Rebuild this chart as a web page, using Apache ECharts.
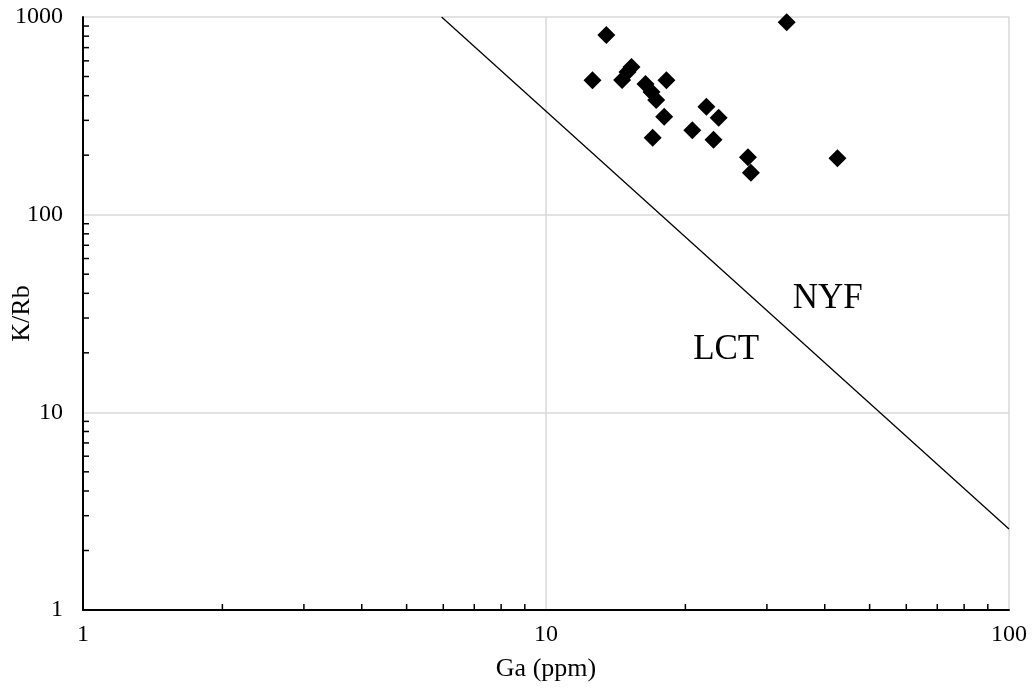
<!DOCTYPE html>
<html>
<head>
<meta charset="utf-8">
<title>K/Rb vs Ga</title>
<script src="https://cdn.jsdelivr.net/npm/echarts@6/dist/echarts.min.js"></script>
<style>
  html, body { margin: 0; padding: 0; background: #fff; }
  #chart { width: 1032px; height: 692px; }
</style>
</head>
<body>
<div id="chart"></div>
<script>
// Sample measurements: Ga (ppm) and K/Rb ratio
const gaPpm = [13.5, 33.1, 12.6, 15.3, 15.0, 14.6, 18.2, 16.4, 16.9, 17.3, 18.0, 17.0, 22.2, 23.6, 20.7, 23.0, 27.3, 27.7, 42.6];
const kRb   = [811, 940, 478, 558, 527, 480, 478, 458, 417, 380, 313, 245, 352, 309, 267, 239, 195, 163, 193];

// LCT / NYF discrimination boundary (end points)
const boundaryGa  = [5.95, 100];
const boundaryKRb = [1000, 2.57];

// Field labels and their positions in data units
const fieldNames = ['NYF', 'LCT'];
const fieldGa    = [40.6, 24.5];
const fieldKRb   = [37.5, 20.7];

// Axis ranges and minor tick values
const xRange = [1, 100];
const yRange = [1, 1000];
const xMinor = [2, 3, 4, 5, 6, 7, 8, 9, 20, 30, 40, 50, 60, 70, 80, 90];
const yMinor = [2, 3, 4, 5, 6, 7, 8, 9, 20, 30, 40, 50, 60, 70, 80, 90, 200, 300, 400, 500, 600, 700, 800, 900];

const serif = '"Liberation Serif", "DejaVu Serif", serif';

const samples = gaPpm.map((g, i) => [g, kRb[i]]);
const boundary = boundaryGa.map((g, i) => [g, boundaryKRb[i]]);
const fields = fieldNames.map((n, i) => ({ name: n, value: [fieldGa[i], fieldKRb[i]] }));

const chart = echarts.init(document.getElementById('chart'), null, { renderer: 'canvas' });

const axisCommon = {
  type: 'log',
  logBase: 10,
  nameLocation: 'middle',
  nameMoveOverlap: false,
  nameTextStyle: { fontFamily: serif, fontSize: 26, color: '#000' },
  axisLine: { show: true, onZero: false, lineStyle: { color: '#000', width: 2 } },
  axisTick: { show: false },
  axisLabel: { fontFamily: serif, fontSize: 24, color: '#000', formatter: v => String(v) },
  splitLine: { show: true, lineStyle: { color: '#d9d9d9', width: 1.5 } }
};

chart.setOption({
  animation: false,
  backgroundColor: '#fff',
  grid: { left: 83, right: 23, top: 17, bottom: 82, containLabel: false, outerBoundsMode: 'none' },
  xAxis: Object.assign({}, axisCommon, {
    min: xRange[0], max: xRange[1],
    name: 'Ga (ppm)', nameGap: 46,
    axisLabel: Object.assign({}, axisCommon.axisLabel, { margin: 13 })
  }),
  yAxis: Object.assign({}, axisCommon, {
    min: yRange[0], max: yRange[1],
    name: 'K/Rb', nameGap: 48,
    axisLabel: Object.assign({}, axisCommon.axisLabel, { margin: 20 })
  }),
  series: [
    {
      // inward minor ticks on the Ga axis
      type: 'custom',
      silent: true,
      clip: false,
      data: xMinor.map(v => [v]),
      renderItem: (params, api) => {
        const p = api.coord([api.value(0), yRange[0]]);
        return { type: 'line', shape: { x1: p[0], y1: p[1], x2: p[0], y2: p[1] - 6 },
                 style: { stroke: '#000', lineWidth: 1.5 } };
      },
      z: 5
    },
    {
      // inward minor ticks on the K/Rb axis
      type: 'custom',
      silent: true,
      clip: false,
      data: yMinor.map(v => [v]),
      renderItem: (params, api) => {
        const p = api.coord([xRange[0], api.value(0)]);
        return { type: 'line', shape: { x1: p[0], y1: p[1], x2: p[0] + 6, y2: p[1] },
                 style: { stroke: '#000', lineWidth: 1.5 } };
      },
      encode: { x: -1, y: 0 },
      z: 5
    },
    {
      type: 'line',
      data: boundary,
      showSymbol: false,
      symbol: 'none',
      lineStyle: { color: '#000', width: 1.3 },
      silent: true,
      z: 3
    },
    {
      type: 'scatter',
      data: samples,
      symbol: 'diamond',
      symbolSize: 18,
      itemStyle: { color: '#000', opacity: 1 },
      z: 4
    },
    {
      type: 'scatter',
      data: fields,
      symbolSize: 0,
      silent: true,
      itemStyle: { opacity: 1 },
      label: {
        show: true,
        position: 'inside',
        formatter: p => p.name,
        fontFamily: serif,
        fontSize: 35,
        color: '#000'
      },
      z: 6
    }
  ]
});
</script>
</body>
</html>
